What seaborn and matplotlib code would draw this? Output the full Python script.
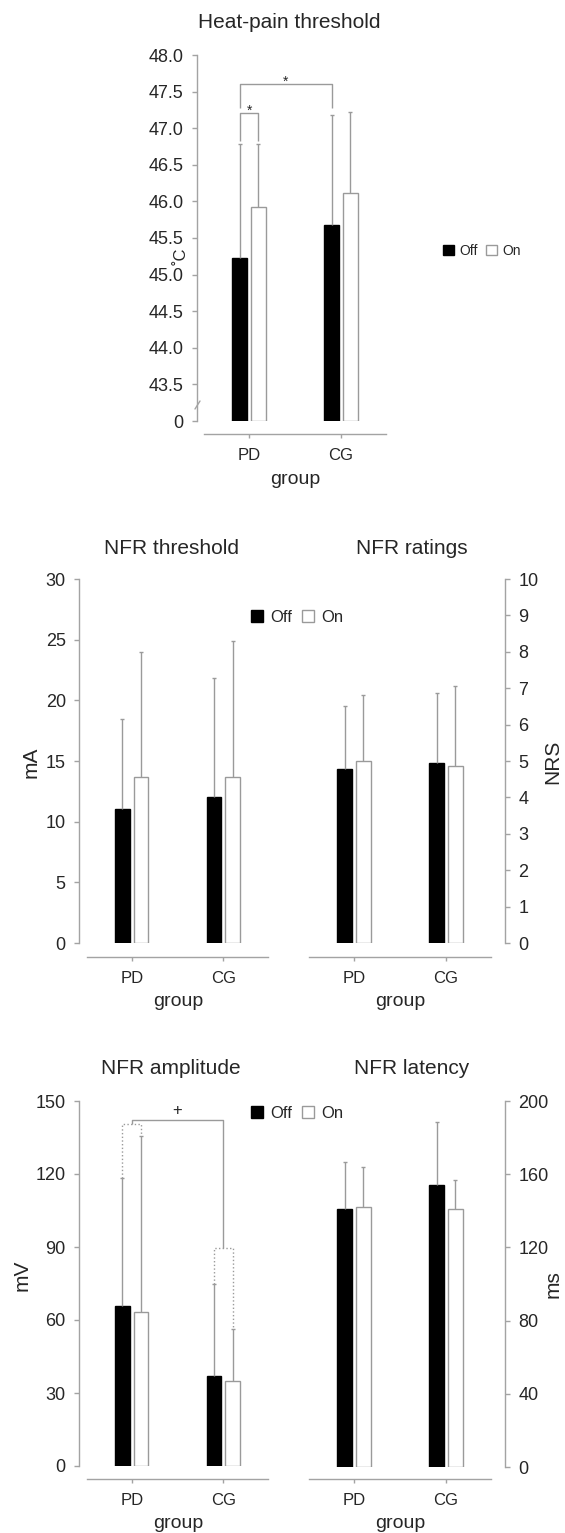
import matplotlib
matplotlib.use("Agg")
import matplotlib.pyplot as plt
from matplotlib.lines import Line2D
import pandas as pd
import seaborn as sns

GROUPS = ["PD", "CG"]
STATES = ["Off", "On"]

# heat-pain threshold (deg C), axis broken below 43.5
heat_off = [45.22, 45.68]
heat_on = [45.92, 46.12]
heat_off_sd = [1.56, 1.50]
heat_on_sd = [0.86, 1.10]
HEAT_BREAK = 43.0
heat_tick_values = [43.5, 44.0, 44.5, 45.0, 45.5, 46.0, 46.5, 47.0, 47.5, 48.0]

# NFR threshold (mA)
thr_off = [11.05, 12.05]
thr_on = [13.7, 13.7]
thr_off_sd = [7.45, 9.75]
thr_on_sd = [10.3, 11.2]

# NFR ratings (NRS)
rat_off = [4.78, 4.95]
rat_on = [5.0, 4.86]
rat_off_sd = [1.72, 1.92]
rat_on_sd = [1.81, 2.20]

# NFR amplitude (mV)
amp_off = [65.8, 37.0]
amp_on = [63.3, 35.0]
amp_off_sd = [52.6, 37.8]
amp_on_sd = [72.3, 21.3]

# NFR latency (ms)
lat_off = [141.2, 154.3]
lat_on = [142.3, 141.2]
lat_off_sd = [25.2, 34.0]
lat_on_sd = [21.9, 15.9]

AXIS = "#a3a3a3"
EDGE = "#9a9a9a"
TEXT = "#262626"
PALETTE = {"Off": "black", "On": "white"}

W, H = 565, 1533

sns.set_style("ticks")
plt.rcParams["font.family"] = ["Liberation Sans", "DejaVu Sans"]

fig = plt.figure(figsize=(W / 100, H / 100), dpi=100)


def box(left, top, right, bottom):
    return [left / W, 1 - bottom / H, (right - left) / W, (bottom - top) / H]


def fxy(x, y):
    return x / W, 1 - y / H


def put(x, y, s, size, rotation=0):
    fig.text(*fxy(x, y), s, ha="center", va="center", fontsize=size,
             rotation=rotation, color=TEXT)


def bar_panel(ax, off, on, off_sd, on_sd, legend=False, shift=0.0):
    ax.set_facecolor("none")
    df = pd.DataFrame({
        "group": GROUPS * 2,
        "state": [STATES[0]] * len(GROUPS) + [STATES[1]] * len(GROUPS),
        "value": [v - shift for v in off + on],
    })
    sns.barplot(data=df, x="group", y="value", hue="state", order=GROUPS,
                hue_order=STATES, palette=PALETTE, width=0.41, gap=0.24,
                errorbar=None, edgecolor=EDGE, linewidth=1.0, legend=legend, ax=ax)
    bars = list(ax.containers[:2])
    for b in bars[0]:
        b.set_edgecolor("black")
    centers = {}
    for state, cont, sd in zip(STATES, bars, [off_sd, on_sd]):
        xs = [b.get_x() + b.get_width() / 2 for b in cont]
        hs = [b.get_height() for b in cont]
        eb = ax.errorbar(xs, hs, yerr=[[0] * len(sd), sd], fmt="none", ecolor=EDGE,
                         elinewidth=1.0, capsize=1.3, capthick=1.0)
        eb.lines[1][0].set_visible(False)  # no cap at the bar top
        for g, x in zip(GROUPS, xs):
            centers[(g, state)] = x
    ax.set_xlim(-0.49, 1.49)
    ax.set_xlabel("")
    ax.set_ylabel("")
    return centers


def style_axes(ax, side, y_out, x_out):
    if side == "left":
        sns.despine(ax=ax, offset={"left": y_out * 0.72, "bottom": x_out * 0.72})
    else:
        sns.despine(ax=ax, left=True, right=False,
                    offset={"right": y_out * 0.72, "bottom": x_out * 0.72})
    for s in ax.spines.values():
        s.set_color(AXIS)
        s.set_linewidth(1.0)
    ax.tick_params(axis="y", length=3.5, width=1.0, color=AXIS, labelsize=13,
                   pad=6, labelcolor=TEXT)
    ax.tick_params(axis="x", length=3, width=1.0, color=AXIS, labelsize=12,
                   pad=7, labelcolor=TEXT)


def bracket(ax, x0, x1, y, y0, y1, ls="-"):
    ax.plot([x0, x0, x1, x1], [y0, y, y, y1], color=EDGE, lw=1.0, ls=ls,
            solid_capstyle="butt")


def legend_at(ax, x, y, size=12):
    sns.move_legend(ax, "center", bbox_to_anchor=fxy(x, y),
                    bbox_transform=fig.transFigure, ncol=2, frameon=False,
                    title=None, fontsize=size, handlelength=0.75, handleheight=0.75,
                    handletextpad=0.4, columnspacing=0.6, borderaxespad=0,
                    borderpad=0)
    leg = ax.get_legend()
    leg.set_zorder(10)
    leg.legend_handles[0].set_edgecolor("black")
    leg.legend_handles[1].set_edgecolor(EDGE)
    for t in leg.get_texts():
        t.set_color(TEXT)


# --- heat-pain threshold ---
ax_heat = fig.add_axes(box(204, 55, 386, 421))
c = bar_panel(ax_heat, heat_off, heat_on, heat_off_sd, heat_on_sd,
              legend=True, shift=HEAT_BREAK)
style_axes(ax_heat, "left", 7, 13)
ax_heat.set_ylim(0, 48.0 - HEAT_BREAK)
ax_heat.set_yticks([0] + [v - HEAT_BREAK for v in heat_tick_values])
ax_heat.set_yticklabels(["0"] + [f"{v:.1f}" for v in heat_tick_values])
pd_top = [heat_off[0] + heat_off_sd[0] - HEAT_BREAK, heat_on[0] + heat_on_sd[0] - HEAT_BREAK]
bracket(ax_heat, c[("PD", "Off")], c[("PD", "On")], 47.21 - HEAT_BREAK,
        pd_top[0] + 0.04, pd_top[1] + 0.04)
bracket(ax_heat, c[("PD", "Off")], c[("CG", "Off")], 47.60 - HEAT_BREAK,
        47.28 - HEAT_BREAK, 47.28 - HEAT_BREAK)
ax_heat.text((c[("PD", "Off")] + c[("PD", "On")]) / 2, 47.14 - HEAT_BREAK, "*",
             ha="center", va="bottom", fontsize=10, color=TEXT)
ax_heat.text((c[("PD", "Off")] + c[("CG", "Off")]) / 2, 47.54 - HEAT_BREAK, "*",
             ha="center", va="bottom", fontsize=10, color=TEXT)
fig.add_artist(Line2D([195 / W, 200 / W], [1 - 409 / H, 1 - 401 / H],
                      color=AXIS, lw=1.0))
legend_at(ax_heat, 482, 251, size=10)
put(289, 22, "Heat-pain threshold", 15)
put(181, 256, "˚C", 12, rotation=90)
put(295, 480, "group", 14)

# --- NFR threshold ---
ax_thr = fig.add_axes(box(87, 579, 268, 943))
bar_panel(ax_thr, thr_off, thr_on, thr_off_sd, thr_on_sd, legend=True)
style_axes(ax_thr, "left", 8, 14)
ax_thr.set_ylim(0, 30)
ax_thr.set_yticks(range(0, 31, 5))
legend_at(ax_thr, 297, 617)
put(171, 548, "NFR threshold", 15)
put(31, 762, "mA", 15, rotation=90)
put(178, 1001, "group", 14)

# --- NFR ratings ---
ax_rat = fig.add_axes(box(309, 579, 491, 943))
bar_panel(ax_rat, rat_off, rat_on, rat_off_sd, rat_on_sd)
style_axes(ax_rat, "right", 14, 14)
ax_rat.set_ylim(0, 10)
ax_rat.set_yticks(range(0, 11))
put(412, 548, "NFR ratings", 15)
put(553, 762, "NRS", 15, rotation=90)
put(400, 1001, "group", 14)

# --- NFR amplitude ---
ax_amp = fig.add_axes(box(87, 1101, 268, 1466))
c = bar_panel(ax_amp, amp_off, amp_on, amp_off_sd, amp_on_sd, legend=True)
style_axes(ax_amp, "left", 8, 13)
ax_amp.set_ylim(0, 150)
ax_amp.set_yticks(range(0, 151, 30))
ticks = ax_amp.get_xticks()
bracket(ax_amp, c[("PD", "Off")], c[("PD", "On")], 140.5,
        amp_off[0] + amp_off_sd[0], amp_on[0] + amp_on_sd[0], ls=":")
bracket(ax_amp, c[("CG", "Off")], c[("CG", "On")], 89.6,
        amp_off[1] + amp_off_sd[1], amp_on[1] + amp_on_sd[1], ls=":")
bracket(ax_amp, ticks[0], ticks[1], 142.2, 140.5, 89.6)
ax_amp.text((ticks[0] + ticks[1]) / 2, 143.0, "+", ha="center", va="bottom",
            fontsize=12, color=TEXT)
legend_at(ax_amp, 297, 1113)
put(171, 1068, "NFR amplitude", 15)
put(22, 1275, "mV", 15, rotation=90)
put(178, 1523, "group", 14)

# --- NFR latency ---
ax_lat = fig.add_axes(box(309, 1101, 491, 1467))
bar_panel(ax_lat, lat_off, lat_on, lat_off_sd, lat_on_sd)
style_axes(ax_lat, "right", 14, 12)
ax_lat.set_ylim(0, 200)
ax_lat.set_yticks(range(0, 201, 40))
put(412, 1068, "NFR latency", 15)
put(553, 1284, "ms", 15, rotation=90)
put(400, 1523, "group", 14)

fig.savefig("out.png", dpi=100, facecolor="white")
